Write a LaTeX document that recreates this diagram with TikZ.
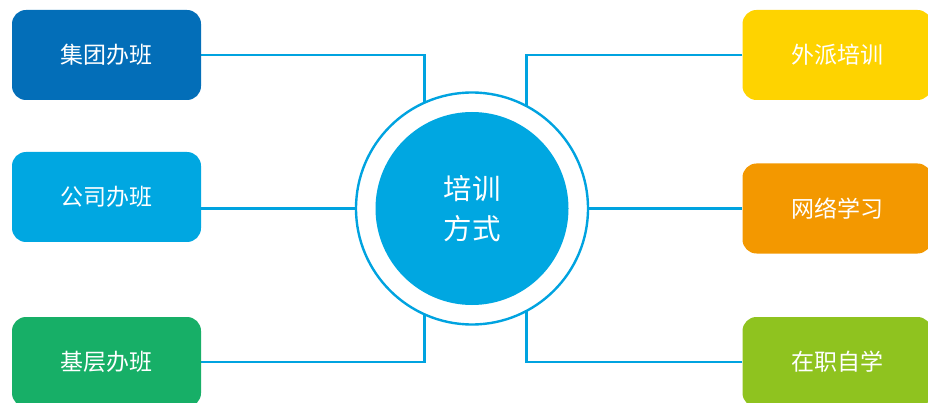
\documentclass[tikz,border=0pt]{standalone}
\usepackage{fontspec}
\newfontfamily\cjk{Noto Sans CJK SC}
\usetikzlibrary{backgrounds,calc}
\definecolor{cDark}{RGB}{3,110,184}
\definecolor{cCyan}{RGB}{0,167,225}
\definecolor{cGreen}{RGB}{23,175,103}
\definecolor{cYellow}{RGB}{254,211,0}
\definecolor{cOrange}{RGB}{243,152,0}
\definecolor{cLime}{RGB}{143,195,31}
\definecolor{cLine}{RGB}{0,163,224}
\tikzset{
  box/.style={rectangle, rounded corners=14pt, minimum width=189pt, minimum height=90pt,
    inner sep=0pt, text=white, font=\cjk\fontsize{23}{27}\selectfont},
  link/.style={draw=cLine, line width=2.4pt},
}
\begin{document}
\begin{tikzpicture}[x=1pt,y=-1pt]
\useasboundingbox (0,0) rectangle (928,403);
% center
\node[circle, draw=cLine, line width=2.4pt, fill=white, minimum size=232pt, inner sep=0pt] (ring) at (472,208.5) {};
\node[circle, fill=cCyan, minimum size=193pt, inner sep=0pt, text=white,
  align=center, font=\cjk\fontsize{28.5}{40}\selectfont] (c) at (472,208.5) {培训\\方式};
% left boxes
\node[box, fill=cDark]  (b1) at (106.5,55)  {集团办班};
\node[box, fill=cCyan]  (b2) at (106.5,197) {公司办班};
\node[box, fill=cGreen] (b3) at (106.5,362) {基层办班};
% right boxes
\node[box, fill=cYellow] (r1) at (837,55)    {外派培训};
\node[box, fill=cOrange] (r2) at (837,208.5) {网络学习};
\node[box, fill=cLime]   (r3) at (837,362)   {在职自学};
% junction coordinates (hidden behind ring)
\coordinate (jl) at (424.5,208.5);
\coordinate (jr) at (526.5,208.5);
\begin{scope}[on background layer]
\draw[link] (b1.east) -| (jl);
\draw[link] (b3.east) -| (jl);
\draw[link] (r1.west) -| (jr);
\draw[link] (r3.west) -| (jr);
\draw[link] (ring.west -| b2.east) -- (ring.west);
\draw[link] (ring.east) -- (r2.west);
\end{scope}
\end{tikzpicture}
\end{document}
